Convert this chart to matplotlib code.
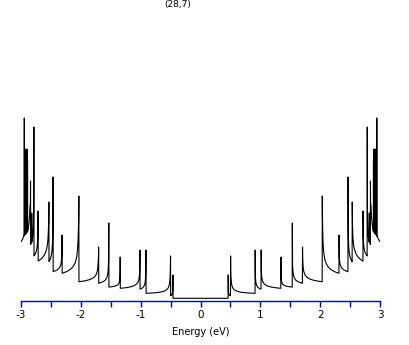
import numpy as np
import matplotlib
matplotlib.use("Agg")
import matplotlib.pyplot as plt

# ---- data ----
title = "(28,7)"
xlabel = "Energy (eV)"
major_ticks = [-3, -2, -1, 0, 1, 2, 3]
minor_ticks = [-2.5, -1.5, -0.5, 0.5, 1.5, 2.5]
plateau_dos = 0.27  # metallic plateau level (arb. units)
# van Hove singularity energies (eV, mirrored to negative energies)
vhs_energy = [0.46, 0.50, 0.91, 1.01, 1.34, 1.53, 1.70, 2.03, 2.31, 2.46, 2.53,
              2.71, 2.78, 2.815, 2.835, 2.885, 2.895, 2.905, 2.915, 2.925, 2.94]
# step height contributed by each singularity
vhs_weight = [0.10, 0.32, 0.19, 0.19, 0.09, 0.20, 0.20, 0.47, 0.12, 0.26, 0.26,
              0.16, 0.245, 0.02, 0.35, 0.012, 0.012, 0.012, 0.012, 0.012, 0.012]
# drawn spike heights
vhs_peak = [2.6, 4.5, 5.1, 5.1, 4.4, 7.8, 5.4, 10.5, 6.6, 12.4, 9.9,
            9.0, 17.4, 8.8, 12.0, 14.0, 15.2, 14.5, 15.2, 15.0, 18.3]

energy = np.arange(-3.0, 3.00001, 0.002)
aE = np.abs(energy)
dos = np.full_like(energy, plateau_dos)
for Ei, w in zip(vhs_energy, vhs_weight):
    m = aE > Ei + 1e-9
    dos[m] += w * aE[m] / np.sqrt(aE[m] ** 2 - Ei ** 2)
# keep the tails below the drawn spike tops
for Ei, h in zip(vhs_energy, vhs_peak):
    near = np.abs(aE - Ei) < 0.012
    dos[near] = np.minimum(dos[near], 0.8 * h)
for Ei, h in zip(vhs_energy, vhs_peak):
    ip = np.searchsorted(energy, Ei, side="right")
    im = np.searchsorted(energy, -Ei, side="left") - 1
    for i in (ip, im):
        if 0 <= i < len(dos):
            dos[i] = h
dos = np.minimum(dos, max(vhs_peak))

W, H = 409, 345
fig = plt.figure(figsize=(W / 100, H / 100), dpi=100)
ax = fig.add_axes([20.7 / W, (H - 301) / H, 359.6 / W, 281 / H])
ax.plot(energy, dos, color="black", lw=0.8)
ax.set_xlim(-3, 3)
ax.set_ylim(0, 28.1)

blue = "#0000cc"
for s in ("top", "left", "right"):
    ax.spines[s].set_visible(False)
ax.spines["bottom"].set_color(blue)
ax.spines["bottom"].set_linewidth(1.0)
ax.set_yticks([])
ax.set_xticks(major_ticks)
ax.set_xticks(minor_ticks, minor=True)
ax.tick_params(axis="x", which="both", direction="out", length=4.3, width=1.0,
               color=blue, labelsize=7.5, pad=2)
ax.set_xticklabels([str(t) for t in major_ticks])
ax.set_xlabel(xlabel, fontsize=7, labelpad=5)

fig.text(178 / W, 1 - 5 / H, title, ha="center", va="center", fontsize=6.5)

fig.savefig("out.png", dpi=100)
